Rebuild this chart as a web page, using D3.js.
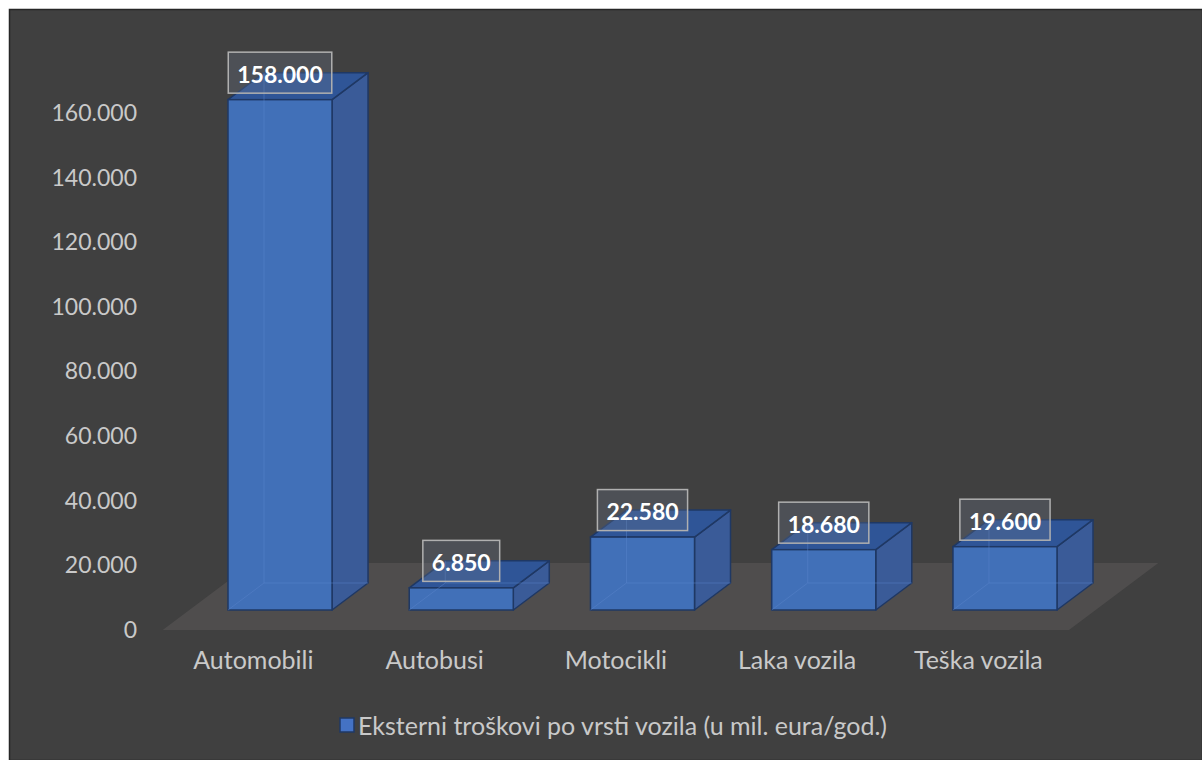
<!DOCTYPE html>
<html>
<head>
<meta charset="utf-8">
<script src="https://cdn.jsdelivr.net/npm/d3@7"></script>
<style>
  body { margin: 0; background: #ffffff; }
  svg { display: block; }
</style>
</head>
<body>
<div id="chart"></div>
<script>
// external costs by vehicle type, 3d column look

var categories = ['Automobili', 'Autobusi', 'Motocikli', 'Laka vozila', 'Teška vozila'];
var values = [158000, 6850, 22580, 18680, 19600];
var yTicks = [0, 20000, 40000, 60000, 80000, 100000, 120000, 140000, 160000];
var seriesName = 'Eksterni troškovi po vrsti vozila (u mil. eura/god.)';

var W = 1202, H = 760;
var fontFamily = 'Lato, "Open Sans", sans-serif';
var textColor = '#c9c9c9';

// depth vector of the fake perspective
var depthX = 36, depthY = -27;
var floorFront = 20, floorBack = 47;  // floor extends in front of / behind the bars
var slope = depthX / -depthY;

var svg = d3.select('#chart')
    .append('svg')
    .attr('width', W)
    .attr('height', H)

svg.append('rect')
    .attr('x', 9.5)
    .attr('y', 9.5)
    .attr('width', W - 9)
    .attr('height', H - 9)
    .attr('fill', '#404040')
    .attr('stroke', '#262626')
    .attr('stroke-width', 1.5)

var x = d3.scaleBand()
    .domain(categories)
    .range([228, 1057])
    .paddingInner(0.426)
    .paddingOuter(0)

var y = d3.scaleLinear()
    .domain([0, 160000])
    .range([610, 93.2])

// axis scale sits on the front edge of the floor
var yAxisScale = d3.scaleLinear()
    .domain(y.domain())
    .range([y.range()[0] + floorFront, y.range()[1] + floorFront])

var fmtVal = function(d){ return d3.format(',.0f')(d).replace(/,/g, '.') }

// floor
var gap = x.step() - x.bandwidth();
var fx0 = x.range()[0] - gap / 2, fx1 = x.range()[1] + gap / 2;
var fyFront = y(0) + floorFront, fyBack = y(0) - floorBack;
var floorPts = [
    [fx0 - floorFront * slope, fyFront],
    [fx1 - floorFront * slope, fyFront],
    [fx1 + floorBack * slope, fyBack],
    [fx0 + floorBack * slope, fyBack]
];
svg.append('polygon')
    .attr('points', floorPts.map(p => p.join(',')).join(' '))
    .attr('fill', '#4f4d4d')

// y axis labels
svg.append('g')
    .attr('transform', 'translate(137,0)')
    .call(d3.axisLeft(yAxisScale).tickValues(yTicks).tickFormat(fmtVal).tickSize(0).tickPadding(0))
    .call(g => g.select('.domain').remove())
    .selectAll('text')
    .attr('fill', textColor)
    .attr('font-family', fontFamily)
    .attr('font-size', '23px')

// x axis labels
svg.append('g')
    .attr('transform', 'translate(' + (-floorFront * slope) + ',' + (fyFront + 21) + ')')
    .call(d3.axisBottom(x).tickSize(0).tickPadding(0))
    .call(g => g.select('.domain').remove())
    .selectAll('text')
    .attr('fill', textColor)
    .attr('font-family', fontFamily)
    .attr('font-size', '25px')

var data = categories.map((c, i) => ({'cat': c, 'val': values[i]}));

var bars = svg.append('g').selectAll('g')
    .data(data)
    .enter()
    .append('g')

var outline = '#1f3864';

function pts(arr){ return arr.map(p => p.join(',')).join(' ') }

// right side face
bars.append('polygon')
    .attr('points', d => {
        var x1 = x(d.cat) + x.bandwidth(), yt = y(d.val), yb = y(0);
        return pts([[x1, yt], [x1 + depthX, yt + depthY], [x1 + depthX, yb + depthY], [x1, yb]])
    })
    .attr('fill', '#3a5b98')
    .attr('stroke', outline)
    .attr('stroke-width', 1.5)
    .attr('stroke-linejoin', 'round')

// top face
bars.append('polygon')
    .attr('points', d => {
        var x0 = x(d.cat), x1 = x0 + x.bandwidth(), yt = y(d.val);
        return pts([[x0, yt], [x1, yt], [x1 + depthX, yt + depthY], [x0 + depthX, yt + depthY]])
    })
    .attr('fill', '#2f5597')
    .attr('stroke', outline)
    .attr('stroke-width', 1.5)
    .attr('stroke-linejoin', 'round')

// front face
bars.append('rect')
    .attr('x', d => x(d.cat))
    .attr('y', d => y(d.val))
    .attr('width', x.bandwidth())
    .attr('height', d => y(0) - y(d.val))
    .attr('fill', '#4170b8')
    .attr('stroke', outline)
    .attr('stroke-width', 1.5)

// faint hidden edges seen through the front
bars.append('path')
    .attr('d', d => {
        var x0 = x(d.cat), x1 = x0 + x.bandwidth(), yt = y(d.val), yb = y(0);
        return 'M' + x0 + ',' + yb + 'L' + (x0 + depthX) + ',' + (yb + depthY) +
            'L' + (x1 + depthX) + ',' + (yb + depthY) +
            'M' + (x0 + depthX) + ',' + (yb + depthY) + 'L' + (x0 + depthX) + ',' + (yt + depthY)
    })
    .attr('fill', 'none')
    .attr('stroke', '#5a86cc')
    .attr('stroke-opacity', 0.45)
    .attr('stroke-width', 1)

// data labels
var labels = svg.append('g').selectAll('g')
    .data(data)
    .enter()
    .append('g')
    .attr('transform', d => 'translate(' + (x(d.cat) + x.bandwidth() / 2) + ',' + (y(d.val) + depthY) + ')')

var labelText = labels.append('text')
    .text(d => fmtVal(d.val))
    .attr('fill', '#ffffff')
    .attr('font-family', fontFamily)
    .attr('font-weight', 'bold')
    .attr('font-size', '23px')
    .attr('text-anchor', 'middle')
    .attr('dominant-baseline', 'central')
    .attr('y', 1)

labelText.each(function(){
    var bb = this.getBBox();
    d3.select(this.parentNode).insert('rect', 'text')
        .attr('x', -bb.width / 2 - 9)
        .attr('y', -20.5)
        .attr('width', bb.width + 18)
        .attr('height', 41)
        .attr('fill', 'rgba(110,120,140,0.3)')
        .attr('stroke', '#b0b0b0')
        .attr('stroke-width', 1.5)
})

// legend
var legend = svg.append('g')
    .attr('transform', 'translate(340,718)')

legend.append('rect')
    .attr('width', 14)
    .attr('height', 14)
    .attr('fill', '#4472c4')
    .attr('stroke', outline)
    .attr('stroke-width', 1.5)

legend.append('text')
    .text(seriesName)
    .attr('x', 18)
    .attr('y', 7)
    .attr('dominant-baseline', 'central')
    .attr('fill', textColor)
    .attr('font-family', fontFamily)
    .attr('font-size', '25px')
</script>
</body>
</html>
